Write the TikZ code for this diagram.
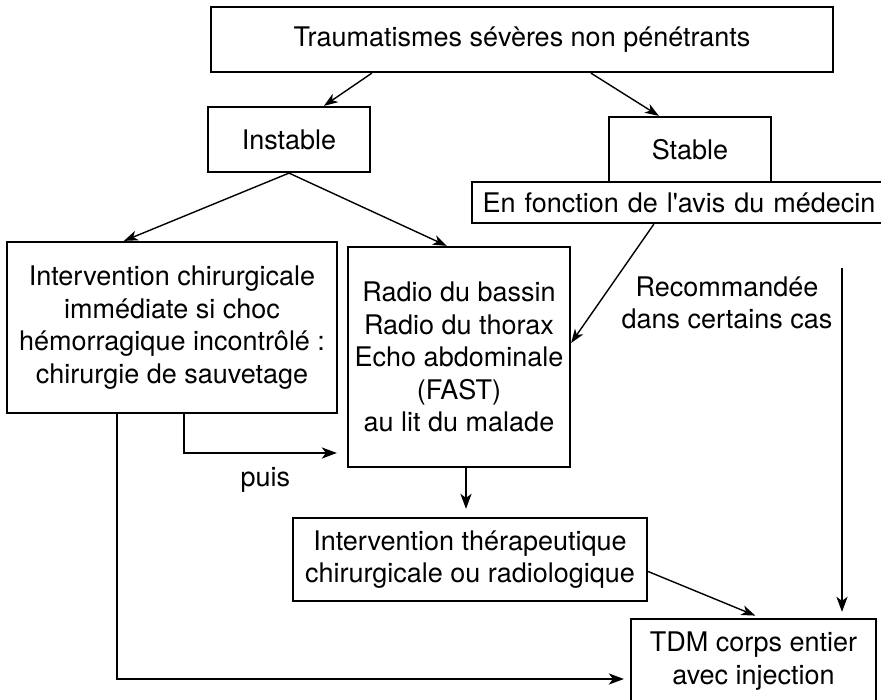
\documentclass[tikz,border=0pt]{standalone}
\usepackage{fontspec}
\setmainfont{TeX Gyre Heros}
\usepackage{tikz}
\usetikzlibrary{arrows.meta, positioning}
\tikzset{%
	every node/.style={
		font=\fontsize{27}{32.5}\selectfont
	},
	box/.style={
		draw,
		line width=2.2pt,
		inner sep=0pt,
		align=center
	},
	thin arrow/.style={
		line width=1.4pt,
		-{Stealth[length=14pt, width=10pt, inset=4pt]}
	},
	thick arrow/.style={
		line width=2.5pt,
		-{Stealth[length=15pt, width=11pt, inset=4pt]}
	},
}
\begin{document}
\begin{tikzpicture}[x=1pt, y=-1pt]
			\useasboundingbox (0,0) rectangle (881,700);
			\node[box, minimum width=622pt, minimum height=65pt] (top) at (522,39.5) {Traumatismes sévères non pénétrants};
			\node[box, minimum width=162pt, minimum height=65pt] (instable) at (289,139.5) {Instable};
			\node[box, minimum width=162pt, minimum height=65pt] (stable) at (690,149.5) {Stable};
			\node[box, fill=white, minimum width=420pt, minimum height=41pt, text width=407pt, align=left] (avis) at (682,202.5) {\hspace*{4pt}En fonction de l\textquotesingle avis du médecin};
			\node[box, minimum width=330pt, minimum height=171pt] (chir) at (172,327.5) {Intervention chirurgicale\\immédiate si choc\\hémorragique incontrôlé :\\chirurgie de sauvetage};
			\node[box, minimum width=222pt, minimum height=220pt] (radio) at (459,357) {Radio du bassin\\Radio du thorax\\Echo abdominale\\(FAST)\\au lit du malade};
			\node[box, minimum width=354pt, minimum height=83pt] (ther) at (470,559.5) {Intervention thérapeutique\\chirurgicale ou radiologique};
			\node[box, minimum width=245pt, minimum height=84pt] (tdm) at (753.5,661) {TDM corps entier\\avec injection};
			\node[align=center] (reco) at (727,303) {Recommandée\\dans certains cas};
			\coordinate (recotop) at (842,268);
			
			\draw[thin arrow] ([xshift=162pt]top.south west) -- ([xshift=117pt]instable.north west);
			\draw[thin arrow] ([xshift=381pt]top.south west) -- ([xshift=51pt]stable.north west);
			\draw[thin arrow] (instable.south) -- ([xshift=118pt]chir.north west);
			\draw[thin arrow] (instable.south) -- ([xshift=100pt]radio.north west);
			\draw[thin arrow] ([xshift=183pt]avis.south west) -- ([yshift=14pt]radio.east);
			\draw[thin arrow, shorten >=6pt] ([yshift=-12pt]ther.east) -- ([xshift=131pt]tdm.north west);
			\draw[thick arrow, shorten >=8pt] ([xshift=7pt]radio.south) -- ([xshift=7pt]radio.south |- ther.north);
			\draw[thick arrow, shorten >=6pt] (recotop) -- (recotop |- tdm.north);
			\draw[thick arrow, shorten >=10pt] ([xshift=178pt]chir.south west) |- ([yshift=-96pt]radio.west) node[pos=0.75, below=10pt] (puis) {puis};
			\draw[thick arrow, shorten >=6pt] ([xshift=111pt]chir.south west) |- ([yshift=-18pt]tdm.west);
			
		\end{tikzpicture}
\end{document}
